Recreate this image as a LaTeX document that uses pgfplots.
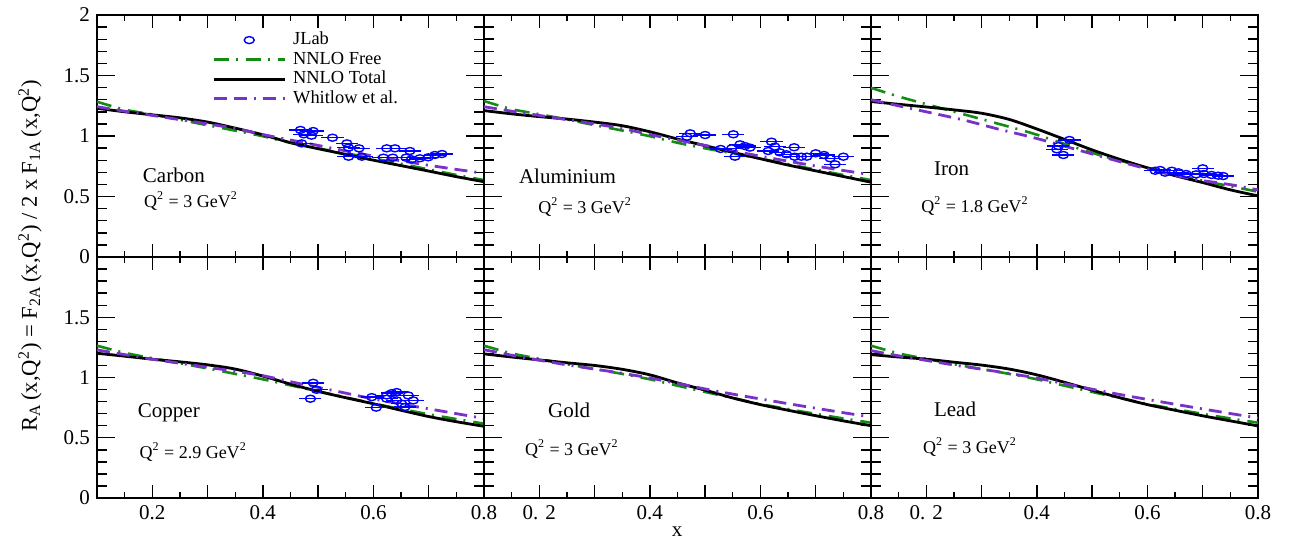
\documentclass[border=0pt]{standalone}
\usepackage{fontspec}
\setmainfont{Liberation Serif}
\usepackage{pgfplots}
\pgfplotsset{compat=1.18}

\definecolor{freegreen}{RGB}{20,140,20}
\definecolor{whitlowviolet}{RGB}{120,50,200}

\tikzset{
  nucleus/.style={font=\fontsize{10.5}{12}\selectfont},
  qlabel/.style={font=\fontsize{9}{10}\selectfont},
}

\pgfplotsset{
  panel/.style={
    scale only axis, width=193.5pt, height=120.5pt,
    xmin=0.1, xmax=0.8, ymin=0, ymax=2,
    xtick={0.1,0.2,0.3,0.4,0.5,0.6,0.7,0.8}, minor x tick num=1,
    ytick={0,0.5,1,1.5,2}, minor y tick num=4,
    xticklabels={}, yticklabels={},
    tick align=inside,
    axis line style={line width=1pt},
    major tick length=9pt, minor tick length=5pt,
    xtick style={/pgfplots/major tick length=6.5pt, /pgfplots/minor tick length=3pt},
    tick style={black, line width=0.7pt},
    tick label style={font=\fontsize{10.5}{12}\selectfont},
    legend image code/.code={\draw[##1] (0pt,0pt) -- (35.5pt,0pt);},
  },
  free/.style={freegreen, line width=1.3pt, smooth, tension=0.5,
    dash pattern=on 7.5pt off 3.5pt on 1pt off 4pt},
  total/.style={black, line width=1.4pt, smooth, tension=0.5},
  whitlow/.style={whitlowviolet, line width=1.4pt, smooth, tension=0.5,
    dash pattern=on 6.5pt off 3.5pt on 6.5pt off 3.5pt on 1pt off 3.5pt},
  jlabmark/.style={blue, only marks, mark=o, mark size=1.75pt,
    mark options={xscale=1.43, line width=0.7pt, solid}},
  jlablegend/.style={legend image code/.code={\draw[mark repeat=2,mark phase=2,##1]
    plot coordinates {(0pt,0pt) (17.75pt,0pt) (35.5pt,0pt)};}},
  jlab/.style={jlabmark, error bars/x dir=both, error bars/x fixed=0.02,
    error bars/error mark=none,
    error bars/error bar style={blue, line width=0.7pt}},
}

\begin{document}
\begin{tikzpicture}
\useasboundingbox (-48.5pt,-22pt) rectangle (597pt,249pt);

% ---------------- Carbon ----------------
\begin{axis}[panel, at={(0pt,120.5pt)}, anchor=south west, height=121pt,
  yticklabels={0,0.5,1,1.5,2},
  legend cell align=left,
  legend style={at={(0.297,0.932)}, anchor=north west, draw=none, fill=none,
    inner sep=0pt, font=\fontsize{9.2}{10}\selectfont, row sep=1.5pt,
    nodes={inner sep=0pt, text height=6.5pt, text depth=1.75pt},
    /tikz/every odd column/.append style={column sep=3.5pt}}]
\addlegendimage{jlabmark, jlablegend}
\addlegendentry{JLab}
\addlegendimage{free, smooth=false}\addlegendentry{NNLO Free}
\addlegendimage{total}\addlegendentry{NNLO Total}
\addlegendimage{whitlow}\addlegendentry{Whitlow et al.}
\addplot[free, forget plot] coordinates {(0.10,1.283)(0.15,1.218)(0.20,1.178)(0.25,1.134)(0.30,1.089)(0.35,1.044)(0.40,0.998)(0.45,0.944)(0.50,0.898)(0.55,0.857)(0.60,0.815)(0.65,0.770)(0.70,0.724)(0.75,0.678)(0.80,0.636)};
\addplot[total, forget plot] coordinates {(0.10,1.229)(0.15,1.200)(0.20,1.175)(0.25,1.150)(0.30,1.115)(0.35,1.065)(0.40,1.010)(0.45,0.945)(0.50,0.895)(0.55,0.848)(0.60,0.800)(0.65,0.755)(0.70,0.710)(0.75,0.664)(0.80,0.622)};
\addplot[whitlow, forget plot] coordinates {(0.10,1.242)(0.15,1.205)(0.20,1.170)(0.25,1.135)(0.30,1.100)(0.35,1.062)(0.40,1.012)(0.45,0.967)(0.50,0.922)(0.55,0.877)(0.60,0.834)(0.65,0.795)(0.70,0.758)(0.75,0.724)(0.80,0.692)};
\addplot[jlab, forget plot] coordinates {(0.468,1.050)(0.491,1.041)(0.474,1.014)(0.488,1.003)(0.470,0.939)(0.526,0.986)(0.552,0.939)(0.555,0.904)(0.574,0.898)(0.555,0.829)(0.579,0.829)(0.624,0.898)(0.639,0.898)(0.666,0.876)(0.618,0.821)(0.635,0.821)(0.659,0.821)(0.669,0.807)(0.684,0.816)(0.699,0.824)(0.711,0.843)(0.724,0.851)};
\node[nucleus] at (axis cs:0.239,0.678) {Carbon};
\node[qlabel] at (axis cs:0.27,0.463) {Q\textsuperscript{2} = 3 GeV\textsuperscript{2}};
\end{axis}

% ---------------- Aluminium ----------------
\begin{axis}[panel, at={(193.5pt,120.5pt)}, anchor=south west, height=121pt]
\addplot[free] coordinates {(0.10,1.289)(0.15,1.222)(0.20,1.180)(0.25,1.136)(0.30,1.090)(0.35,1.045)(0.40,0.998)(0.45,0.944)(0.50,0.898)(0.55,0.856)(0.60,0.813)(0.65,0.768)(0.70,0.722)(0.75,0.678)(0.80,0.636)};
\addplot[total] coordinates {(0.10,1.210)(0.15,1.183)(0.20,1.160)(0.25,1.140)(0.30,1.115)(0.35,1.085)(0.40,1.035)(0.45,0.975)(0.50,0.920)(0.55,0.865)(0.60,0.812)(0.65,0.760)(0.70,0.712)(0.75,0.665)(0.80,0.618)};
\addplot[whitlow] coordinates {(0.10,1.242)(0.15,1.205)(0.20,1.170)(0.25,1.135)(0.30,1.100)(0.35,1.062)(0.40,1.012)(0.45,0.967)(0.50,0.922)(0.55,0.877)(0.60,0.833)(0.65,0.792)(0.70,0.752)(0.75,0.715)(0.80,0.680)};
\addplot[jlab] coordinates {(0.473,1.022)(0.500,1.008)(0.467,0.994)(0.551,1.014)(0.528,0.893)(0.548,0.898)(0.563,0.931)(0.572,0.917)(0.581,0.904)(0.554,0.829)(0.620,0.953)(0.626,0.912)(0.614,0.876)(0.635,0.865)(0.661,0.907)(0.647,0.849)(0.662,0.829)(0.674,0.829)(0.684,0.829)(0.700,0.857)(0.715,0.843)(0.726,0.816)(0.750,0.829)(0.735,0.766)};
\node[nucleus] at (axis cs:0.251,0.669) {Aluminium};
\node[qlabel] at (axis cs:0.283,0.413) {Q\textsuperscript{2} = 3 GeV\textsuperscript{2}};
\end{axis}

% ---------------- Iron ----------------
\begin{axis}[panel, at={(387pt,120.5pt)}, anchor=south west, height=121pt]
\addplot[free] coordinates {(0.10,1.398)(0.151,1.325)(0.212,1.248)(0.272,1.174)(0.332,1.099)(0.392,1.022)(0.453,0.930)(0.513,0.843)(0.573,0.769)(0.633,0.697)(0.694,0.636)(0.754,0.581)(0.800,0.540)};
\addplot[total] coordinates {(0.10,1.285)(0.15,1.262)(0.20,1.240)(0.25,1.216)(0.30,1.188)(0.35,1.137)(0.40,1.058)(0.45,0.972)(0.50,0.885)(0.55,0.807)(0.60,0.737)(0.65,0.672)(0.70,0.615)(0.75,0.555)(0.80,0.505)};
\addplot[whitlow] coordinates {(0.10,1.300)(0.151,1.248)(0.212,1.188)(0.272,1.127)(0.332,1.055)(0.392,0.989)(0.453,0.912)(0.513,0.835)(0.573,0.760)(0.633,0.691)(0.694,0.636)(0.754,0.595)(0.800,0.554)};
\addplot[jlab] coordinates {(0.459,0.967)(0.439,0.917)(0.436,0.890)(0.448,0.843)(0.614,0.713)(0.623,0.719)(0.632,0.697)(0.644,0.713)(0.656,0.700)(0.670,0.686)(0.688,0.683)(0.700,0.733)(0.702,0.686)(0.716,0.678)(0.728,0.672)(0.737,0.669)};
\node[nucleus] at (axis cs:0.246,0.727) {Iron};
\node[qlabel] at (axis cs:0.288,0.421) {Q\textsuperscript{2} = 1.8 GeV\textsuperscript{2}};
\end{axis}

% ---------------- Copper ----------------
\begin{axis}[panel, at={(0pt,0pt)}, anchor=south west,
  yticklabels={0,0.5,1,1.5,{}}, xticklabels={,0.2,,0.4,,0.6,,0.8}]
\addplot[free] coordinates {(0.10,1.264)(0.15,1.205)(0.20,1.160)(0.25,1.118)(0.30,1.075)(0.35,1.030)(0.40,0.985)(0.45,0.935)(0.50,0.885)(0.55,0.835)(0.60,0.785)(0.65,0.738)(0.70,0.695)(0.75,0.655)(0.80,0.617)};
\addplot[total] coordinates {(0.10,1.201)(0.15,1.177)(0.20,1.152)(0.25,1.130)(0.30,1.105)(0.35,1.070)(0.40,1.012)(0.45,0.945)(0.50,0.885)(0.55,0.832)(0.60,0.782)(0.65,0.728)(0.70,0.676)(0.75,0.633)(0.80,0.595)};
\addplot[whitlow] coordinates {(0.10,1.229)(0.15,1.190)(0.20,1.152)(0.25,1.118)(0.30,1.085)(0.35,1.052)(0.40,1.015)(0.45,0.965)(0.50,0.918)(0.55,0.870)(0.60,0.822)(0.65,0.780)(0.70,0.740)(0.75,0.700)(0.80,0.660)};
\addplot[jlab] coordinates {(0.491,0.956)(0.497,0.898)(0.486,0.824)(0.597,0.837)(0.605,0.750)(0.624,0.851)(0.633,0.870)(0.642,0.879)(0.624,0.824)(0.642,0.810)(0.651,0.783)(0.657,0.755)(0.663,0.851)(0.672,0.810)};
\node[nucleus] at (axis cs:0.230,0.711) {Copper};
\node[qlabel] at (axis cs:0.274,0.380) {Q\textsuperscript{2} = 2.9 GeV\textsuperscript{2}};
\end{axis}

% ---------------- Gold ----------------
\begin{axis}[panel, at={(193.5pt,0pt)}, anchor=south west,
  xticklabels={,0. 2,,0.4,,0.6,,0.8}]
\addplot[free] coordinates {(0.10,1.264)(0.15,1.200)(0.20,1.155)(0.25,1.110)(0.30,1.070)(0.35,1.030)(0.40,0.985)(0.45,0.932)(0.50,0.880)(0.55,0.830)(0.60,0.780)(0.65,0.738)(0.70,0.698)(0.75,0.660)(0.80,0.625)};
\addplot[total] coordinates {(0.10,1.196)(0.15,1.170)(0.20,1.146)(0.25,1.122)(0.30,1.100)(0.35,1.068)(0.40,1.022)(0.45,0.955)(0.50,0.895)(0.55,0.830)(0.60,0.775)(0.65,0.728)(0.70,0.683)(0.75,0.640)(0.80,0.600)};
\addplot[whitlow] coordinates {(0.10,1.231)(0.15,1.185)(0.20,1.144)(0.25,1.105)(0.30,1.070)(0.35,1.035)(0.40,0.996)(0.45,0.950)(0.50,0.905)(0.55,0.862)(0.60,0.822)(0.65,0.783)(0.70,0.745)(0.75,0.708)(0.80,0.672)};
\node[nucleus] at (axis cs:0.254,0.727) {Gold};
\node[qlabel] at (axis cs:0.259,0.405) {Q\textsuperscript{2} = 3 GeV\textsuperscript{2}};
\end{axis}

% ---------------- Lead ----------------
\begin{axis}[panel, at={(387pt,0pt)}, anchor=south west,
  xticklabels={,0. 2,,0.4,,0.6,,0.8}]
\addplot[free] coordinates {(0.10,1.264)(0.15,1.200)(0.20,1.155)(0.25,1.110)(0.30,1.070)(0.35,1.030)(0.40,0.985)(0.45,0.932)(0.50,0.880)(0.55,0.830)(0.60,0.780)(0.65,0.738)(0.70,0.698)(0.75,0.660)(0.80,0.625)};
\addplot[total] coordinates {(0.10,1.190)(0.15,1.170)(0.20,1.152)(0.25,1.127)(0.30,1.103)(0.35,1.070)(0.40,1.022)(0.45,0.960)(0.50,0.895)(0.55,0.832)(0.60,0.775)(0.65,0.728)(0.70,0.682)(0.75,0.640)(0.80,0.598)};
\addplot[whitlow] coordinates {(0.10,1.223)(0.15,1.180)(0.20,1.142)(0.25,1.104)(0.30,1.069)(0.35,1.034)(0.40,0.995)(0.45,0.949)(0.50,0.903)(0.55,0.859)(0.60,0.818)(0.65,0.778)(0.70,0.739)(0.75,0.701)(0.80,0.664)};
\node[nucleus] at (axis cs:0.252,0.735) {Lead};
\node[qlabel] at (axis cs:0.279,0.421) {Q\textsuperscript{2} = 3 GeV\textsuperscript{2}};
\end{axis}

% shared axis titles
\node[rotate=90, font=\fontsize{11.3}{13}\selectfont] at (-33.5pt,121pt)
  {R\textsubscript{A}\,(x,Q\textsuperscript{2}) = F\textsubscript{2A}\,(x,Q\textsuperscript{2}) / 2 x F\textsubscript{1A}\,(x,Q\textsuperscript{2})};
\node[font=\fontsize{10.5}{12}\selectfont] at (290pt,-17pt) {x};
\end{tikzpicture}
\end{document}
